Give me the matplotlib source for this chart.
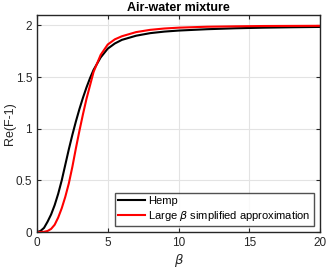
import matplotlib
matplotlib.use('Agg')
from matplotlib import pyplot as plt

plt.rcParams['font.family'] = ['Liberation Sans', 'DejaVu Sans']
plt.rcParams['mathtext.fontset'] = 'dejavusans'

beta_hemp = [0, 0.25, 0.5, 0.75, 1.0, 1.25, 1.5, 1.75, 2.0, 2.25, 2.5, 2.75, 3.0, 3.25, 3.5, 3.75,
             4.0, 4.5, 5.0, 5.5, 6.0, 7.0, 8.0, 9.0, 10, 12, 14, 16, 18, 20]
re_hemp = [0, 0.01, 0.04, 0.10, 0.17, 0.26, 0.37, 0.50, 0.65, 0.80, 0.94, 1.07, 1.19, 1.30, 1.40, 1.49,
           1.57, 1.69, 1.775, 1.825, 1.86, 1.90, 1.925, 1.94, 1.95, 1.963, 1.972, 1.978, 1.982, 1.985]

beta_approx = [0, 0.25, 0.5, 0.75, 1.0, 1.25, 1.5, 1.75, 2.0, 2.25, 2.5, 2.75, 3.0, 3.25, 3.5, 3.75,
               4.0, 4.5, 5.0, 5.5, 6.0, 7.0, 8.0, 9.0, 10, 12, 14, 16, 18, 20]
re_approx = [0, 0.0, 0.002, 0.01, 0.03, 0.07, 0.14, 0.23, 0.34, 0.47, 0.63, 0.81, 0.98, 1.14, 1.29, 1.42,
             1.55, 1.715, 1.815, 1.865, 1.895, 1.935, 1.957, 1.97, 1.978, 1.987, 1.991, 1.994, 1.995, 1.996]

xtick_vals = [0, 5, 10, 15, 20]
ytick_vals = [0, 0.5, 1, 1.5, 2]
ytick_labels = ['0', '0.5', '1', '1.5', '2']

fig = plt.figure(figsize=(3.27, 2.69), dpi=100)
ax = fig.add_axes([0.113, 0.1375, 0.866, 0.8065])

ax.plot(beta_hemp, re_hemp, color='black', lw=1.5, label='Hemp')
ax.plot(beta_approx, re_approx, color='red', lw=1.5, label=r'Large $\beta$ simplified approximation')

ax.set_xlim(0, 20)
ax.set_ylim(0, 2.1)
ax.set_xticks(xtick_vals)
ax.set_yticks(ytick_vals)
ax.set_yticklabels(ytick_labels)
ax.grid(True, color='#e3e3e3', lw=0.8)
ax.set_axisbelow(True)
ax.tick_params(direction='in', length=3, width=0.8, labelsize=8.5, colors='#262626',
               top=True, right=True)
for sp in ax.spines.values():
    sp.set_color('#262626')
    sp.set_linewidth(1.0)

ax.set_title('Air-water mixture', fontsize=9, fontweight='bold', pad=3)
ax.set_xlabel(r'$\beta$', fontsize=9.5, color='#262626', labelpad=2)
ax.set_ylabel('Re(F-1)', fontsize=9, color='#262626')
ax.yaxis.set_label_coords(-0.075, 0.5)

leg = ax.legend(loc='lower right', fontsize=8, frameon=True, fancybox=False,
                handlelength=2.4, handletextpad=0.3, borderpad=0.3, labelspacing=0.2,
                borderaxespad=0.55)
leg.get_frame().set_edgecolor('#262626')
leg.get_frame().set_linewidth(1.0)

fig.savefig('out.png', dpi=100)
